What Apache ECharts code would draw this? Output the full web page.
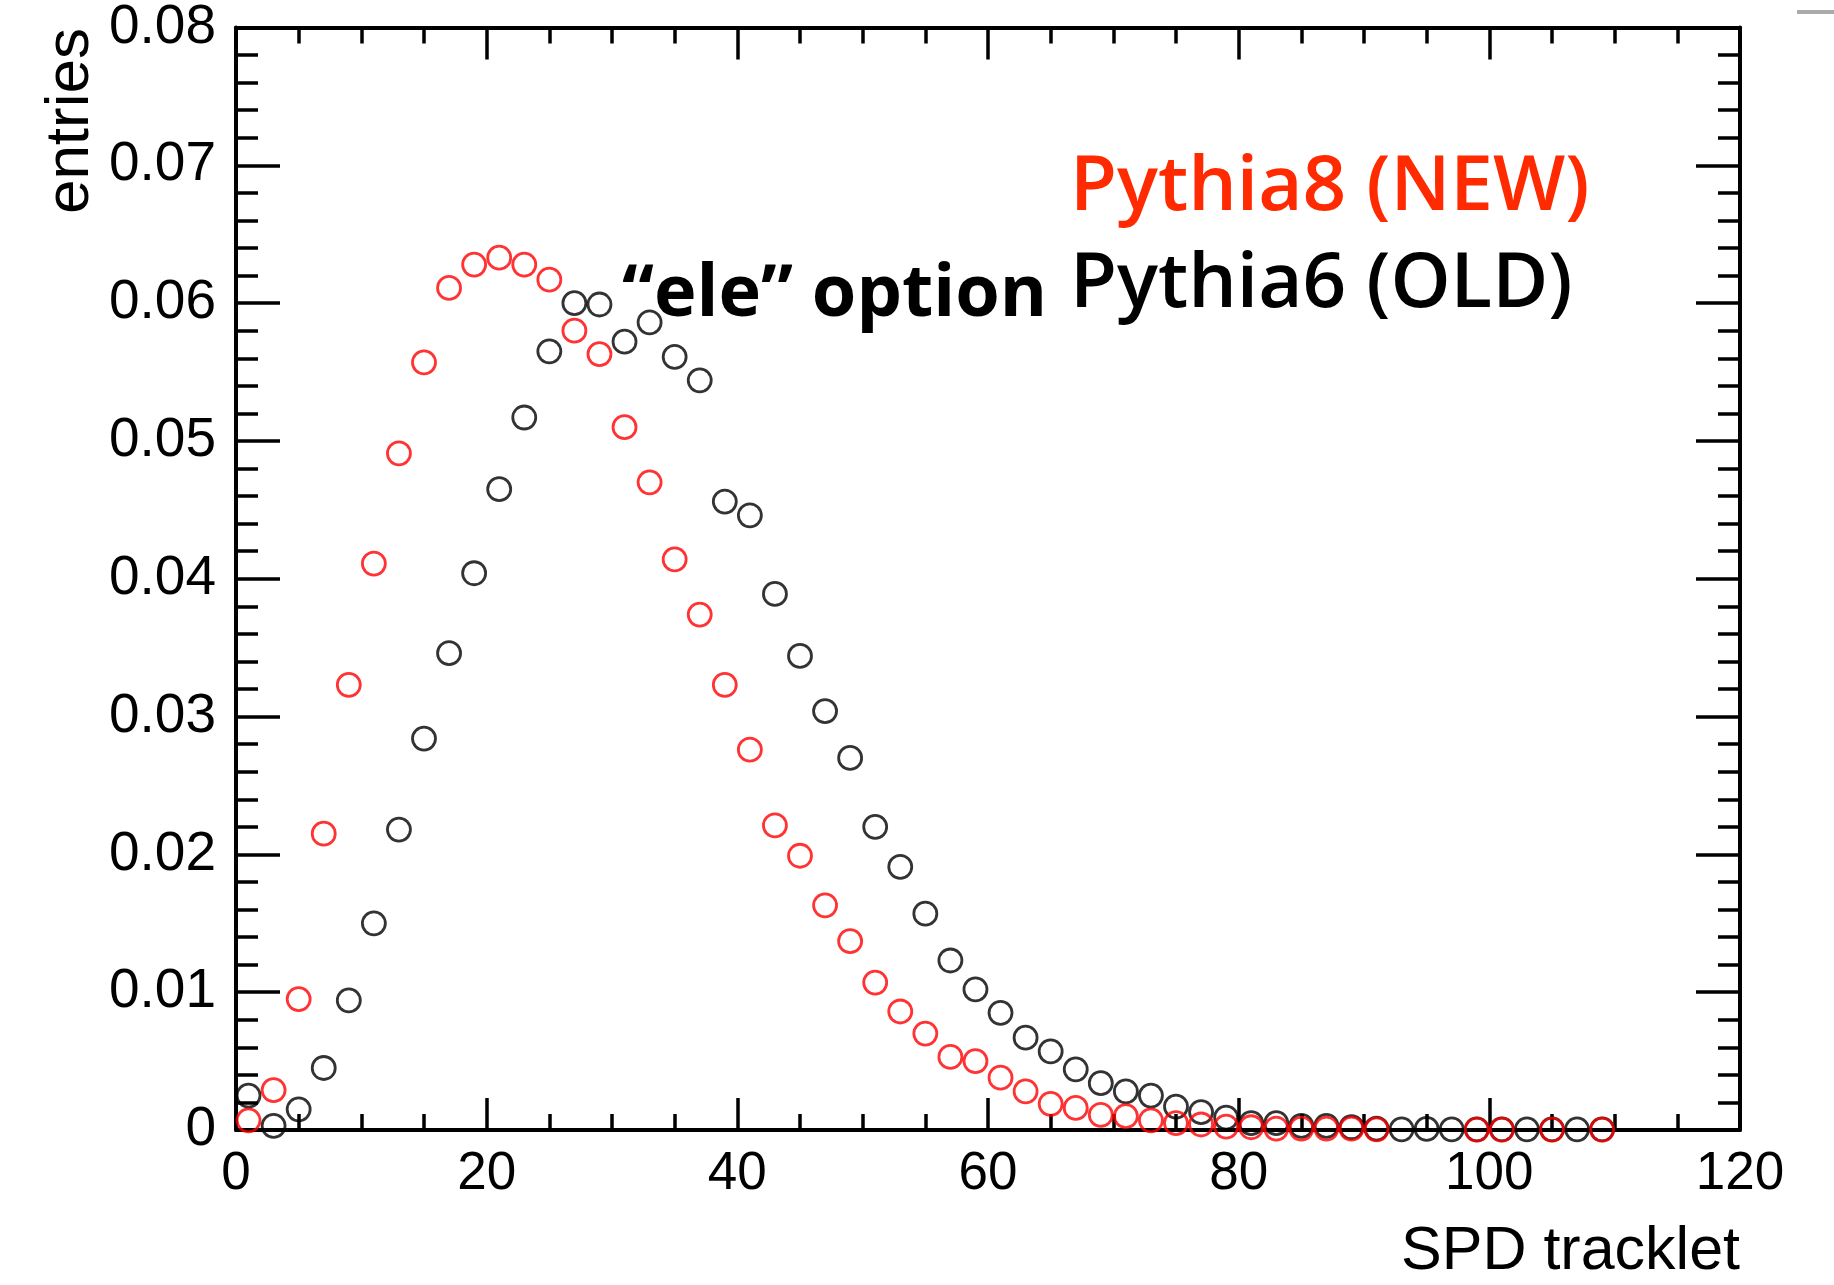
<!DOCTYPE html>
<html>
<head>
<meta charset="utf-8">
<script src="https://cdn.jsdelivr.net/npm/echarts@6/dist/echarts.min.js"></script>
<style>
html,body{margin:0;padding:0;background:#fff;}
#c{width:1834px;height:1285px;}
</style>
</head>
<body>
<div id="c"></div>
<script>
// bin centres (SPD tracklet)
const binCenters = [1,3,5,7,9,11,13,15,17,19,21,23,25,27,29,31,33,35,37,39,41,43,45,47,49,51,53,55,57,59,61,63,65,67,69,71,73,75,77,79,81,83,85,87,89,91,93,95,97,99,101,103,105,107,109];
// Pythia8 (NEW) - red
const pythia8 = [0.0007,0.0029,0.0095,0.0215,0.0323,0.0411,0.0491,0.0557,0.0611,0.0628,0.0633,0.0628,0.0617,0.0580,0.0563,0.0510,0.0470,0.0414,0.0374,0.0323,0.0276,0.0221,0.0199,0.0163,0.0137,0.0107,0.0086,0.0070,0.0053,0.0050,0.0038,0.0028,0.0019,0.0016,0.0011,0.0010,0.0007,0.0005,0.0004,0.00025,0.0002,0.0001,0.0001,0.0001,0.0001,0.00005,null,null,null,0.00003,0.00003,null,0.00003,null,0.00003];
// Pythia6 (OLD) - black
const pythia6 = [0.0025,0.0003,0.0015,0.0045,0.0094,0.0150,0.0218,0.0284,0.0346,0.0404,0.0465,0.0517,0.0565,0.0600,0.0599,0.0572,0.0586,0.0561,0.0544,0.0456,0.0446,0.0389,0.0344,0.0304,0.0270,0.0220,0.0191,0.0157,0.0123,0.0102,0.0085,0.0067,0.0057,0.0044,0.0034,0.0028,0.0025,0.0017,0.0013,0.0009,0.0005,0.0005,0.0003,0.0003,0.0002,0.0001,0.00005,0.00008,0.00005,0.00005,0.00005,0.00005,0.00005,0.00005,0.00005];

const xTicks = {min:0, max:120, interval:20};
const yTicks = {min:0, max:0.08, interval:0.01};

function pairs(xs, ys){ const out=[]; for(let i=0;i<xs.length;i++){ if(ys[i]!==null) out.push([xs[i], ys[i]]); } return out; }

const chart = echarts.init(document.getElementById('c'), null, {renderer:'canvas'});
const axisFont = 'Liberation Sans, Arial, sans-serif';
const lineStyle = {color:'#000', width:4};

function xAxisDef(pos, showLabel){
  return {
    type:'value', position:pos, min:xTicks.min, max:xTicks.max, interval:xTicks.interval,
    axisLine:{show:true, onZero:false, lineStyle:lineStyle},
    axisTick:{show:true, inside:true, length:32, lineStyle:{color:'#000', width:3.5}},
    minorTick:{show:true, splitNumber:4, length:16, lineStyle:{color:'#000', width:3.5}},
    splitLine:{show:false},
    axisLabel:{show:showLabel, color:'#000', fontSize:53, fontFamily:axisFont, margin:18}
  };
}
function yAxisDef(pos, showLabel){
  return {
    type:'value', position:pos, min:yTicks.min, max:yTicks.max, interval:yTicks.interval,
    axisLine:{show:true, onZero:false, lineStyle:lineStyle},
    axisTick:{show:true, inside:true, length:44, lineStyle:{color:'#000', width:3.5}},
    minorTick:{show:true, splitNumber:5, length:22, lineStyle:{color:'#000', width:3.5}},
    splitLine:{show:false},
    axisLabel:{show:showLabel, color:'#000', fontSize:55, fontFamily:axisFont, margin:20,
      formatter:function(v){ return v===0 ? '0' : v.toFixed(2); }}
  };
}

chart.setOption({
  backgroundColor:'#fff',
  animation:false,
  grid:{left:236, right:94, top:27, bottom:155, containLabel:false},
  xAxis:[xAxisDef('bottom', true), xAxisDef('top', false)],
  yAxis:[yAxisDef('left', true), yAxisDef('right', false)],
  series:[
    {name:'Pythia6 (OLD)', type:'scatter', xAxisIndex:0, yAxisIndex:0, symbol:'circle', symbolSize:23,
     itemStyle:{color:'rgba(0,0,0,0)', borderColor:'#000', borderWidth:2.8}, data:pairs(binCenters, pythia6)},
    {name:'Pythia8 (NEW)', type:'scatter', xAxisIndex:0, yAxisIndex:0, symbol:'circle', symbolSize:23,
     itemStyle:{color:'rgba(0,0,0,0)', borderColor:'#ff0000', borderWidth:2.8}, data:pairs(binCenters, pythia8)}
  ],
  graphic:[
    {type:'text', x:102, y:28, rotation:Math.PI/2,
     style:{text:'entries', font:'62px Liberation Sans, Arial, sans-serif', fill:'#000', align:'right', verticalAlign:'bottom'}},
    {type:'text', x:1740, y:1222,
     style:{text:'SPD tracklet', font:'61px Liberation Sans, Arial, sans-serif', fill:'#000', align:'right', verticalAlign:'top'}},
    {type:'text', x:1070, y:150,
     style:{text:'Pythia8 (NEW)', font:'600 76.5px "Open Sans", "Noto Sans", sans-serif', fill:'#ff2a00', align:'left', verticalAlign:'top'}},
    {type:'text', x:1070, y:247,
     style:{text:'Pythia6 (OLD)', font:'600 76.5px "Open Sans", "Noto Sans", sans-serif', fill:'#000', align:'left', verticalAlign:'top'}},
    {type:'text', x:622, y:259,
     style:{text:'\u201cele\u201d option', font:'bold 72px "Open Sans", "Noto Sans", sans-serif', fill:'#000', align:'left', verticalAlign:'top'}},
    {type:'rect', shape:{x:1797, y:10, width:37, height:4}, style:{fill:'#aaaaaa'}}
  ]
});
</script>
</body>
</html>
